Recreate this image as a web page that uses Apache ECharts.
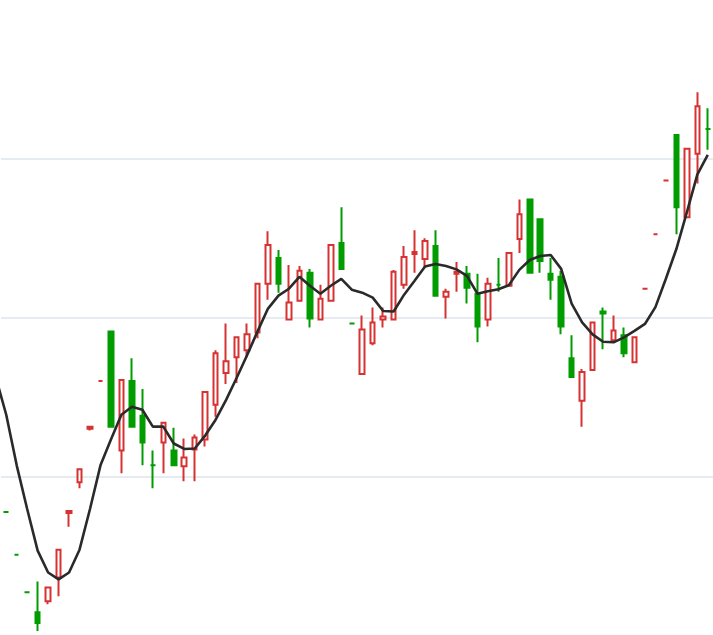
<!DOCTYPE html>
<html>
<head>
<meta charset="utf-8">
<script src="https://cdn.jsdelivr.net/npm/echarts@6/dist/echarts.min.js"></script>
<style>
html,body{margin:0;padding:0;background:#fff;}
#chart{width:713px;height:635px;}
</style>
</head>
<body>
<div id="chart"></div>
<script>
// categories (first one sits just outside the visible window)
const categories = [];
for (let i = 0; i < 69; i++) categories.push('D' + (i + 1));

// candles: [open, close, low, high]; first is outside the view (no candle shown)
const candles = [
  ['-','-','-','-'],
  [3324,3324,3324,3324],
  [3281,3281,3281,3281],
  [3243,3243,3243,3243],
  [3223,3212,3204,3254],
  [3234,3248,3231,3248],
  [3258,3286,3239,3286],
  [3323,3325,3309,3325],
  [3354,3367,3348,3367],
  [3408,3410,3406,3410],
  [3456,3456,3456,3456],
  [3506,3410,3410,3506],
  [3386,3457,3363,3457],
  [3456,3410,3410,3479],
  [3421,3394,3371,3448],
  [3371,3371,3348,3386],
  [3394,3414,3363,3414],
  [3386,3371,3371,3409],
  [3370,3379,3355,3398],
  [3387,3399,3355,3402],
  [3397,3445,3390,3445],
  [3432,3484,3420,3487],
  [3464,3476,3453,3514],
  [3480,3500,3454,3500],
  [3487,3503,3480,3514],
  [3505,3554,3499,3554],
  [3554,3593,3538,3607],
  [3580,3554,3545,3588],
  [3518,3535,3518,3573],
  [3537,3567,3537,3572],
  [3565,3519,3510,3569],
  [3518,3539,3518,3553],
  [3537,3593,3537,3593],
  [3595,3569,3569,3631],
  [3514,3514,3514,3514],
  [3463,3508,3463,3522],
  [3494,3515,3492,3530],
  [3518,3521,3510,3530],
  [3518,3566,3518,3568],
  [3553,3581,3549,3592],
  [3584,3586,3565,3608],
  [3579,3597,3570,3600],
  [3592,3542,3542,3608],
  [3541,3546,3519,3549],
  [3564,3566,3546,3576],
  [3564,3550,3534,3572],
  [3544,3511,3495,3564],
  [3518,3554,3511,3560],
  [3553,3553,3546,3580],
  [3552,3585,3552,3585],
  [3599,3624,3585,3639],
  [3639,3565,3565,3639],
  [3619,3577,3565,3619],
  [3564,3558,3538,3580],
  [3561,3511,3503,3567],
  [3479,3460,3460,3502],
  [3436,3465,3410,3468],
  [3467,3515,3467,3515],
  [3526,3524,3488,3530],
  [3497,3507,3497,3522],
  [3502,3484,3480,3510],
  [3475,3500,3475,3500],
  [3549,3549,3549,3549],
  [3604,3604,3604,3604],
  [3658,3658,3658,3658],
  [3704,3631,3604,3704],
  [3621,3690,3621,3690],
  [3685,3733,3655,3747],
  [3710,3710,3689,3731]
];

// moving average line
const maValues = [
  3460,3422,3371,3327,3285,3263,3256,3263,3286,3327,
  3371,3397,3422,3430,3427,3410,3410,3393,3387.5,3388,
  3401,3417,3437,3459,3482,3506,3529,3542,3549,3561,
  3552,3544,3552,3559,3548,3545,3540,3526.5,3526,3543,
  3557,3571.5,3574,3572,3568.5,3562,3544,3546.5,3548.5,3552.5,
  3568,3578,3582,3583,3569,3534,3515,3503,3495.5,3495,
  3500,3506.5,3513.5,3530.5,3559,3589,3626,3664,3684
];

const yMin = 3200, yMax = 3840, yStep = 160;

const chart = echarts.init(document.getElementById('chart'), null, {renderer: 'canvas'});
chart.setOption({
  animation: false,
  backgroundColor: '#ffffff',
  grid: {left: 1, right: 0, top: 0, bottom: 0, containLabel: false},
  dataZoom: [{
    type: 'inside',
    xAxisIndex: 0,
    startValue: 1,
    endValue: 68,
    filterMode: 'none'
  }],
  xAxis: {
    type: 'category',
    data: categories,
    boundaryGap: true,
    axisLine: {show: false},
    axisTick: {show: false},
    axisLabel: {show: false},
    splitLine: {show: false}
  },
  yAxis: {
    type: 'value',
    min: yMin, max: yMax, interval: yStep,
    axisLine: {show: false},
    axisTick: {show: false},
    axisLabel: {show: false},
    splitLine: {show: true, showMinLine: false, showMaxLine: false,
      lineStyle: {color: '#DDE5EC', width: 1.5}}
  },
  series: [
    {
      type: 'candlestick',
      data: candles,
      barWidth: 5,
      itemStyle: {
        color: '#ffffff',
        color0: '#009c00',
        borderColor: '#d63232',
        borderColor0: '#009c00',
        borderWidth: 2
      }
    },
    {
      type: 'line',
      data: maValues,
      symbol: 'none',
      smooth: false,
      lineStyle: {color: '#2a2a2a', width: 2.6}
    }
  ]
});
</script>
</body>
</html>
